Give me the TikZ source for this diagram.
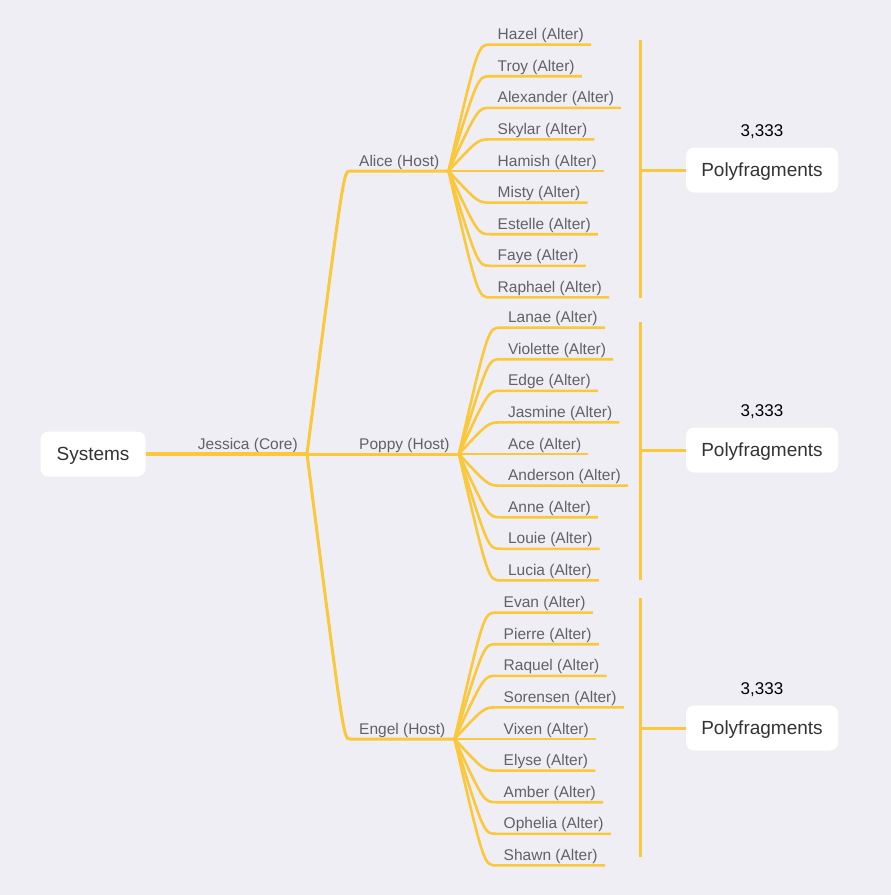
\documentclass[tikz,border=0pt]{standalone}
\usepackage{fontspec}
\setmainfont{Liberation Sans}
\usetikzlibrary{positioning,calc}

\definecolor{fondo}{HTML}{EFEEF4}
\definecolor{amarillo}{HTML}{FAC83A}
\definecolor{gris}{HTML}{616168}
\definecolor{oscuro}{HTML}{333333}

\tikzset{
	caja/.style={fill=white, rounded corners=8pt, text=oscuro, minimum height=45pt, text height=13.6pt, text depth=0pt, font=\fontsize{19}{22}\selectfont},
	rotulo/.style={text=gris, inner xsep=9pt, inner ysep=1.5pt, font=\fontsize{15.5}{18}\selectfont},
	anfitrion/.style={rotulo, anchor=south west},
	alter/.style={rotulo, inner xsep=7pt, anchor=south west},
	cuenta/.style={text=black, font=\fontsize{17}{20}\selectfont},
	tronco/.style={amarillo, line width=4pt},
	rama/.style={amarillo, line width=3pt},
	hijo/.style={amarillo, line width=2.6pt},
	llave/.style={amarillo, line width=3pt},
}

\begin{document}
\begin{tikzpicture}[x=1pt, y=-1pt]

	\fill[fondo] (0,0) rectangle (891,895);
	\useasboundingbox (0,0) rectangle (891,895);

% Raiz
	\node[caja, minimum width=105pt] (systems) at (93,454) {Systems};
	\node[rotulo, anchor=south east] (jessica) at (307,454) {Jessica (Core)};
	\draw[tronco] (systems.east) -- (jessica.south east);

% Anfitriones
	\foreach \host/\nombre/\altura in {alice/Alice/171, poppy/Poppy/454, engel/Engel/739} {
		\node[anfitrion] (\host) at (350,\altura) {\nombre\ (Host)};
		\draw[rama] let \p1=(jessica.south east), \p2=(\host.south west) in
			(\p1) .. controls ({\x1+0.85*(\x2-\x1)},\y2) .. (\p2) -- (\host.south east);
	}

% Alters
	\foreach \host/\lista in {
		alice/{Hazel, Troy, Alexander, Skylar, Hamish, Misty, Estelle, Faye, Raphael},
		poppy/{Lanae, Violette, Edge, Jasmine, Ace, Anderson, Anne, Louie, Lucia},
		engel/{Evan, Pierre, Raquel, Sorensen, Vixen, Elyse, Amber, Ophelia, Shawn}} {
		\foreach \nombre [count=\i] in \lista {
			\node[alter] (\host-\i) at ($(\host.south east)+(42,{31.6*(\i-5)})$) {\nombre\ (Alter)};
			\draw[hijo] let \p1=(\host.south east), \p2=(\host-\i.south west) in
				(\p1) .. controls ({\x1+0.7*(\x2-\x1)},\y2) .. (\p2) -- (\host-\i.south east);
		}
	}

% Polifragmentos
	\foreach \k/\ya/\yb/\ym in {1/40/298/170, 2/322/580/450, 3/598/857/728} {
		\node[caja, minimum width=152pt] (pf\k) at (762,\ym) {Polyfragments};
		\node[cuenta, above=5pt of pf\k] (n\k) {3,333};
		\coordinate (llave\k-a) at (640,\ya);
		\coordinate (llave\k-b) at (640,\yb);
		\draw[llave] (llave\k-a) -- (llave\k-b);
		\draw[llave] (llave\k-a |- pf\k.west) -- (pf\k.west);
	}
\end{tikzpicture}
\end{document}
